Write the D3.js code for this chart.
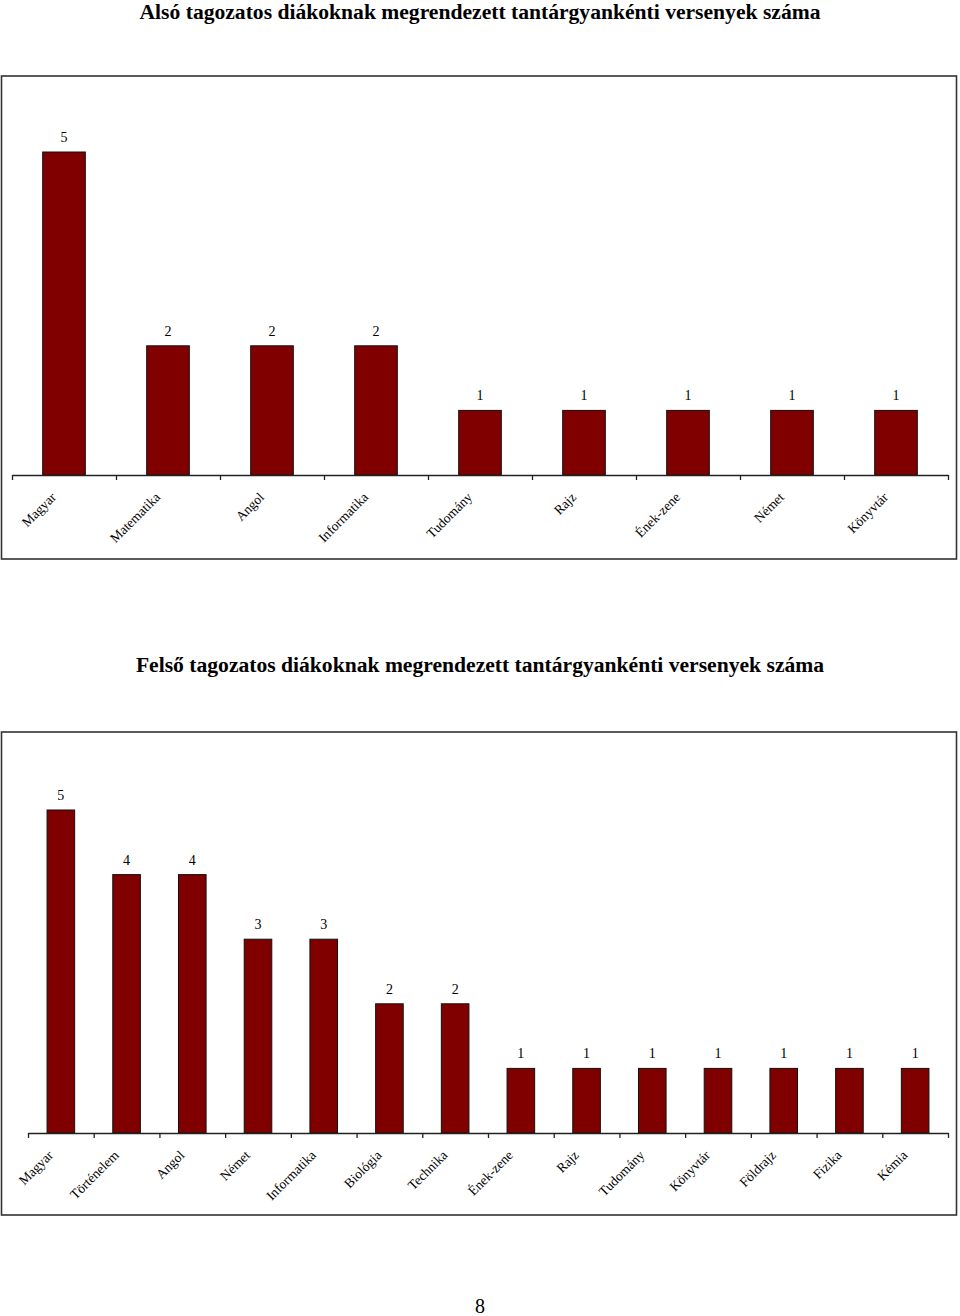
<!DOCTYPE html>
<html>
<head>
<meta charset="utf-8">
<script src="https://cdn.jsdelivr.net/npm/d3@7"></script>
<style>
  body { margin: 0; background: #fff; }
  svg { display: block; }
</style>
</head>
<body>
<svg id="page" width="960" height="1316"></svg>
<script>
// chart 1 data
const title1 = "Alsó tagozatos diákoknak megrendezett tantárgyankénti versenyek száma";
const subjects1 = ["Magyar", "Matematika", "Angol", "Informatika", "Tudomány", "Rajz", "Ének-zene", "Német", "Könyvtár"];
const counts1 = [5, 2, 2, 2, 1, 1, 1, 1, 1];

// chart 2 data
const title2 = "Felső tagozatos diákoknak megrendezett tantárgyankénti versenyek száma";
const subjects2 = ["Magyar", "Történelem", "Angol", "Német", "Informatika", "Biológia", "Technika", "Ének-zene", "Rajz", "Tudomány", "Könyvtár", "Földrajz", "Fizika", "Kémia"];
const counts2 = [5, 4, 4, 3, 3, 2, 2, 1, 1, 1, 1, 1, 1, 1];

const pageNumber = "8";

const font = "'Liberation Serif', 'Times New Roman', serif";
const svg = d3.select("#page");

function drawChart(cfg) {
  const { title, cats, vals, top, left, right, frameTop, frameBottom, axisY, barFrac } = cfg;
  const g = svg.append("g");

  //************ title
  g.append("text")
    .attr("x", 480)
    .attr("y", top)
    .attr("text-anchor", "middle")
    .text(title)
    .style("font-family", font)
    .style("font-weight", 700)
    .style("font-size", "21.6px")
    .style("fill", "#000");

  //************ frame
  g.append("rect")
    .attr("x", 1.5)
    .attr("y", frameTop)
    .attr("width", 955)
    .attr("height", frameBottom - frameTop)
    .attr("fill", "none")
    .attr("stroke", "#333")
    .attr("stroke-width", 1.6);

  //************ scales
  const n = cats.length;
  const xIdx = d3.scaleLinear().domain([0, n]).range([left, right]);
  const x = d3.scaleBand().domain(cats).range([left, right]).padding(0);
  const y = d3.scaleLinear().domain([0, 5]).range([axisY, axisY - 323]);
  const bw = x.bandwidth() * barFrac;

  //************ bars
  g.selectAll(".bar")
    .data(cats)
    .enter()
    .append("rect")
    .attr("class", "bar")
    .attr("x", d => x(d) + (x.bandwidth() - bw) / 2)
    .attr("y", (d, i) => y(vals[i]))
    .attr("width", bw)
    .attr("height", (d, i) => y(0) - y(vals[i]))
    .attr("fill", "#800000")
    .attr("stroke", "#111")
    .attr("stroke-width", 1);

  //************ value labels
  g.selectAll(".val")
    .data(cats)
    .enter()
    .append("text")
    .attr("x", d => x(d) + x.bandwidth() / 2)
    .attr("y", (d, i) => y(vals[i]) - 10)
    .attr("text-anchor", "middle")
    .text((d, i) => vals[i])
    .style("font-family", font)
    .style("font-size", "14px")
    .style("fill", "#000");

  //************ x axis
  const xAxis = d3.axisBottom(xIdx)
    .tickValues(d3.range(n + 1))
    .tickSize(5)
    .tickSizeOuter(0)
    .tickFormat("");
  const axG = g.append("g")
    .attr("transform", `translate(0,${axisY})`)
    .call(xAxis);
  axG.select(".domain").attr("stroke", "#222").attr("stroke-width", 1.3);
  axG.selectAll(".tick line").attr("stroke", "#222").attr("stroke-width", 1.3);

  //************ category labels
  g.selectAll(".cat")
    .data(cats)
    .enter()
    .append("text")
    .attr("transform", d => `translate(${x(d) + x.bandwidth() / 2 - 7},${axisY + 23}) rotate(-45)`)
    .attr("text-anchor", "end")
    .text(d => d)
    .style("font-family", font)
    .style("font-size", "13.5px")
    .style("fill", "#000");
}

drawChart({
  title: title1, cats: subjects1, vals: counts1,
  top: 18.5, left: 12, right: 948,
  frameTop: 76, frameBottom: 559, axisY: 475, barFrac: 0.41
});

drawChart({
  title: title2, cats: subjects2, vals: counts2,
  top: 672, left: 28, right: 948,
  frameTop: 732, frameBottom: 1215, axisY: 1133, barFrac: 0.42
});

svg.append("text")
  .attr("x", 480)
  .attr("y", 1313)
  .attr("text-anchor", "middle")
  .text(pageNumber)
  .style("font-family", font)
  .style("font-size", "20px")
  .style("fill", "#000");
</script>
</body>
</html>
